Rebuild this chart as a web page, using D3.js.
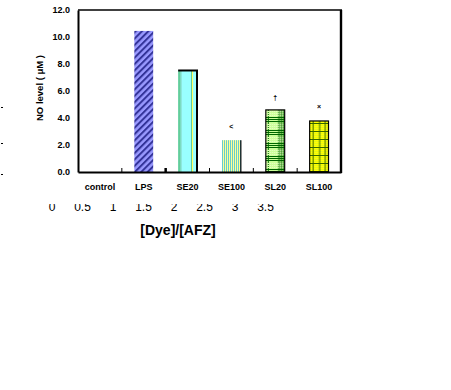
<!DOCTYPE html>
<html><head><meta charset="utf-8">
<script src="https://cdn.jsdelivr.net/npm/d3@7"></script>
<style>html,body{margin:0;padding:0;background:#fff;}svg{display:block;}</style>
</head><body>
<script>
const categories = ["control","LPS","SE20","SE100","SL20","SL100"];
const values = [0, 10.45, 7.52, 2.36, 4.6, 3.78];
const markers = ["", "", "", "<", "†", "×"];
const yTicks = [0,2,4,6,8,10,12];
const ratioTicks = [0,0.5,1,1.5,2,2.5,3,3.5];

const W = 451, H = 390;
const svg = d3.select("body").append("svg").attr("width", W).attr("height", H);
const defs = svg.append("defs");

const x = d3.scaleBand().domain(categories).range([78, 341]).padding(0);
const y = d3.scaleLinear().domain([0, 12]).range([172, 10]);
const xr = d3.scaleLinear().domain([0, 3.5]).range([52, 265.5]);
const barW = x.bandwidth() * 0.43;
const bx = c => x(c) + (x.bandwidth() - barW) / 2;

// patterns
const pLPS = defs.append("pattern").attr("id","pLPS").attr("patternUnits","userSpaceOnUse")
  .attr("width",4.5).attr("height",4.5).attr("patternTransform","rotate(45)");
pLPS.append("rect").attr("width",4.5).attr("height",4.5).attr("fill","#9999ff");
pLPS.append("rect").attr("width",2).attr("height",4.5).attr("fill","#333399");

const pSE100 = defs.append("pattern").attr("id","pSE100").attr("patternUnits","userSpaceOnUse")
  .attr("x", bx("SE100")).attr("width",2).attr("height",4);
pSE100.append("rect").attr("width",2).attr("height",4).attr("fill","#ffff99");
pSE100.append("rect").attr("width",1).attr("height",4).attr("fill","#66cccc");

const pSL20 = defs.append("pattern").attr("id","pSL20").attr("patternUnits","userSpaceOnUse")
  .attr("x", bx("SL20")).attr("y", 0).attr("width", barW).attr("height",13);
pSL20.append("rect").attr("width",barW).attr("height",13).attr("fill","#ccff99");
[0,2,4].forEach(o=>pSL20.append("rect").attr("x",0).attr("y",o).attr("width",barW).attr("height",1).attr("fill","#006600"));
[2, 12.5, 14.7, 16.8].forEach(o=>pSL20.append("rect").attr("x",o).attr("y",0).attr("width",1).attr("height",13).attr("fill","#006600"));
for (let i=0;i<barW;i+=2) for (let j=7;j<13;j+=2) pSL20.append("rect").attr("x",i).attr("y",j).attr("width",1).attr("height",1).attr("fill","#eeffcc");

const pSL100 = defs.append("pattern").attr("id","pSL100").attr("patternUnits","userSpaceOnUse")
  .attr("x", bx("SL100")).attr("y", 0).attr("width", barW).attr("height",8);
pSL100.append("rect").attr("width",barW).attr("height",8).attr("fill","#ffff00");
for (let i=0;i<barW;i+=2) for (let j=0;j<8;j+=2) pSL100.append("rect").attr("x",i+1).attr("y",j+1).attr("width",1).attr("height",1).attr("fill","#ccee33");
pSL100.append("rect").attr("x",0).attr("y",3).attr("width",barW).attr("height",1).attr("fill","#336600");
[3, 9.5, 15].forEach(o=>pSL100.append("rect").attr("x",o).attr("y",0).attr("width",1).attr("height",8).attr("fill","#336600"));

const fills = {"control":"none","LPS":"url(#pLPS)","SE20":"#99ffff","SE100":"url(#pSE100)","SL20":"url(#pSL20)","SL100":"url(#pSL100)"};

// stray marks at left edge
[107,143,174].forEach(v=>svg.append("rect").attr("x",1).attr("y",v).attr("width",2).attr("height",1).attr("fill","#000"));

// bars
const bars = svg.append("g");
categories.forEach((c,i)=>{
  if (values[i] <= 0) return;
  const x0 = bx(c), y0 = y(values[i]), h = y(0) - y(values[i]);
  bars.append("rect").attr("x",x0).attr("y",y0).attr("width",barW).attr("height",h).attr("fill",fills[c]);
  if (c === "SE20") {
    bars.append("rect").attr("x",x0).attr("y",y0).attr("width",2.5).attr("height",h).attr("fill","#66cc99");
    bars.append("rect").attr("x",x0+2.5).attr("y",y0).attr("width",1).attr("height",h).attr("fill","#88ddcc");
    bars.append("rect").attr("x",x0+barW-6).attr("y",y0).attr("width",1).attr("height",h).attr("fill","#66cc99");
    bars.append("rect").attr("x",x0+barW-5).attr("y",y0).attr("width",1).attr("height",h).attr("fill","#ffff66");
    bars.append("line").attr("x1",x0).attr("x2",x0+barW+1).attr("y1",y0).attr("y2",y0).attr("stroke","#000").attr("stroke-width",2);
    bars.append("line").attr("x1",x0+barW).attr("x2",x0+barW).attr("y1",y0).attr("y2",y(0)).attr("stroke","#000").attr("stroke-width",2);
  } else if (c === "SE100") {
    bars.append("line").attr("x1",x0+barW).attr("x2",x0+barW).attr("y1",y0).attr("y2",y(0)).attr("stroke","#000").attr("stroke-width",1.2);
  } else if (c === "SL20" || c === "SL100") {
    bars.append("rect").attr("x",x0).attr("y",y0).attr("width",barW).attr("height",h).attr("fill","none").attr("stroke","#000").attr("stroke-width",1.2);
  }
});

// markers
categories.forEach((c,i)=>{
  if (!markers[i]) return;
  const off = {"<":11,"†":10,"×":12}[markers[i]];
  svg.append("text").attr("x", x(c)+x.bandwidth()/2).attr("y", y(values[i]) - off)
    .attr("text-anchor","middle").attr("font-family","Liberation Sans, Arial, sans-serif")
    .attr("font-size", 7).attr("font-weight","bold").attr("fill","#000").text(markers[i]);
});

// frame
svg.append("line").attr("x1",78).attr("x2",342).attr("y1",10).attr("y2",10).attr("stroke","#000").attr("stroke-width",1.6);
svg.append("line").attr("x1",341).attr("x2",341).attr("y1",10).attr("y2",173).attr("stroke","#000").attr("stroke-width",2.4);

// y axis
const yAxis = d3.axisLeft(y).tickValues(yTicks).tickFormat(d3.format(".1f")).tickSize(0).tickPadding(8);
const gy = svg.append("g").attr("transform","translate(78,0)").call(yAxis);
gy.select(".domain").attr("stroke","#000").attr("stroke-width",2);
gy.selectAll("text").attr("font-family","Liberation Sans, Arial, sans-serif").attr("font-size",9).attr("font-weight","bold").attr("fill","#000");

// x axis
const xAxis = d3.axisBottom(x).tickSize(0).tickPadding(12);
const gx = svg.append("g").attr("transform","translate(0,172)").call(xAxis);
gx.select(".domain").attr("stroke","#000").attr("stroke-width",2);
gx.selectAll("text").attr("font-family","Liberation Sans, Arial, sans-serif").attr("font-size",9).attr("font-weight","bold").attr("fill","#000");
// boundary ticks pointing up
categories.slice(1).forEach(c=>{
  svg.append("line").attr("x1",x(c)).attr("x2",x(c)).attr("y1",172).attr("y2",168)
    .attr("stroke","#000").attr("stroke-width", c==="SE20" ? 2.5 : 1);
});

// y label
svg.append("text").attr("transform","translate(43,88) rotate(-90)").attr("text-anchor","middle")
  .attr("font-family","Liberation Sans, Arial, sans-serif").attr("font-size",9.5).attr("font-weight","bold")
  .attr("fill","#000").text("NO level ( μM )");

// clipped secondary numeric axis labels
defs.append("clipPath").attr("id","clipNum").append("rect").attr("x",0).attr("y",204).attr("width",W).attr("height",20);
const gn = svg.append("g").attr("clip-path","url(#clipNum)");
ratioTicks.forEach(v=>{
  gn.append("text").attr("x", xr(v)).attr("y", 211).attr("text-anchor","middle")
    .attr("font-family","Liberation Sans, Arial, sans-serif").attr("font-size",12).attr("fill","#000").text(String(v));
});

svg.append("text").attr("x",178).attr("y",235).attr("text-anchor","middle")
  .attr("font-family","Liberation Sans, Arial, sans-serif").attr("font-size",14).attr("font-weight","bold")
  .attr("fill","#000").text("[Dye]/[AFZ]");
</script>
</body></html>
